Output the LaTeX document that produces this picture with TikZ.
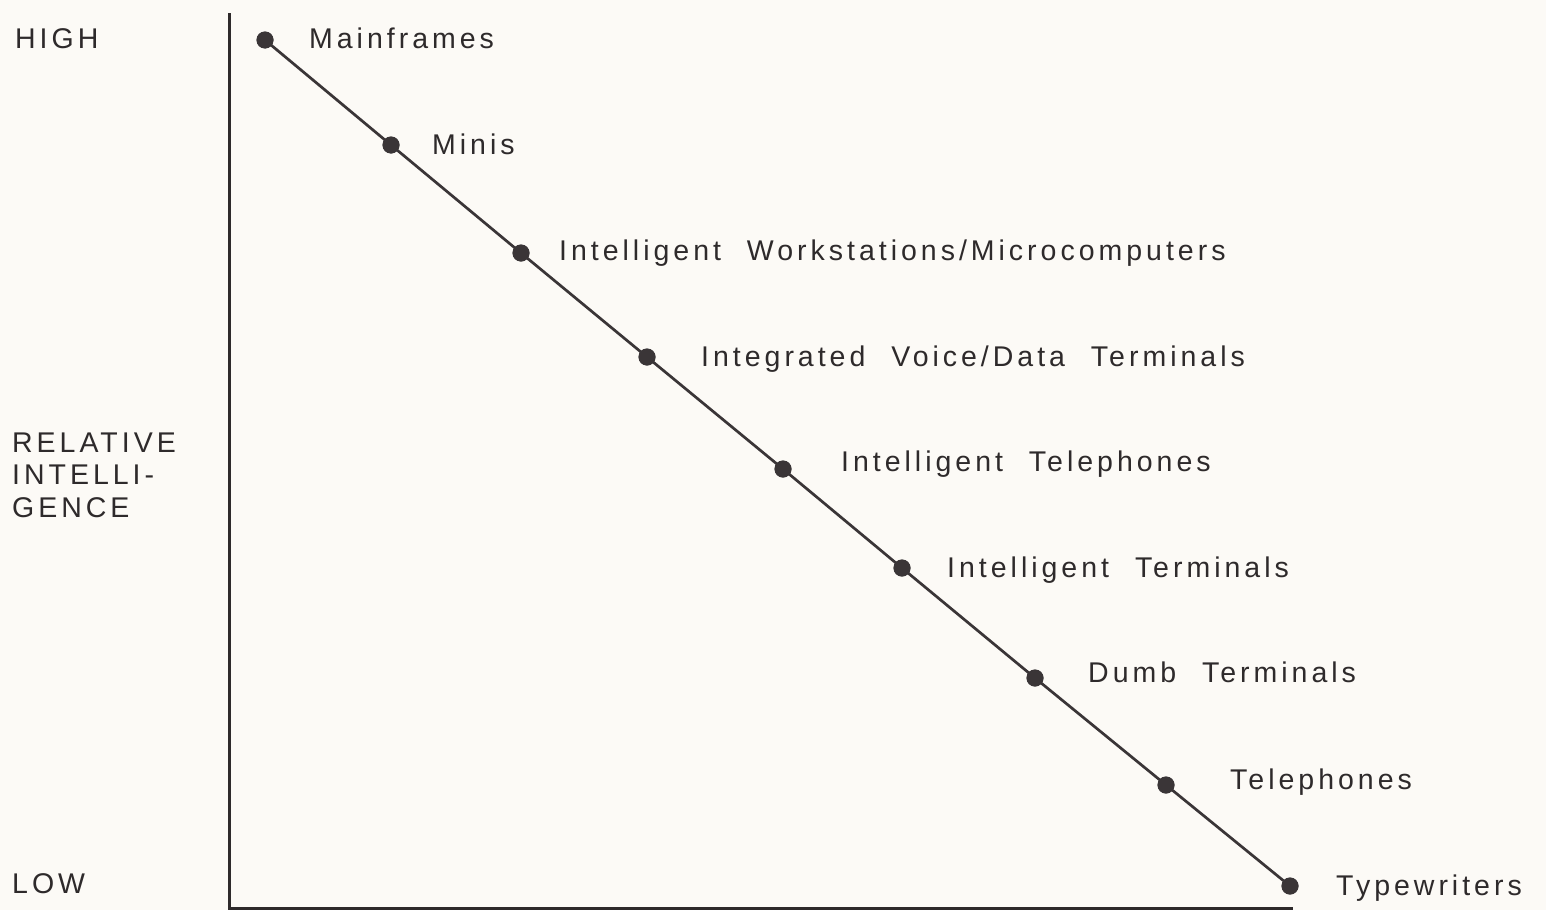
\documentclass[tikz,border=0pt]{standalone}
\usepackage{fontspec}
\setmainfont[LetterSpace=14]{Liberation Sans}
\definecolor{bg}{HTML}{FCFAF6}
\definecolor{ink}{HTML}{2E2A2B}
\definecolor{lineink}{HTML}{3A3537}
\newcommand{\lblfont}{\fontsize{28.5}{34}\selectfont\spaceskip=\dimexpr\fontdimen2\font+14pt\relax}
\begin{document}
\begin{tikzpicture}[x=1pt,y=-1pt,
  dot/.style={circle,fill=lineink,inner sep=0pt,minimum size=17pt},
  lbl/.style={anchor=base west,inner sep=0pt,text=ink,font=\lblfont},
  axis/.style={draw=ink,line width=3pt},
  trend/.style={draw=lineink,line width=2.7pt}]
\fill[bg] (0,0) rectangle (1546,910);
\useasboundingbox (0,0) rectangle (1546,910);
% axes
\coordinate (top) at (229,13);
\coordinate (origin) at (229,908);
\coordinate (xend) at (1293,908);
\draw[axis] (top) -- (origin) -- (xend);
% dots
\node[dot] (d1) at (265,40) {};
\node[dot] (d2) at (391,145) {};
\node[dot] (d3) at (521,253) {};
\node[dot] (d4) at (647,357) {};
\node[dot] (d5) at (783,469) {};
\node[dot] (d6) at (902,568) {};
\node[dot] (d7) at (1035,678) {};
\node[dot] (d8) at (1166,785) {};
\node[dot] (d9) at (1290,886) {};
\draw[trend] (d1.center) -- (d2.center) -- (d3.center) -- (d4.center) -- (d5.center) -- (d6.center) -- (d7.center) -- (d8.center) -- (d9.center);
\foreach \n in {d1,d2,d3,d4,d5,d6,d7,d8,d9} \node[dot] at (\n) {};
% labels
\node[lbl] (l1) at (309,48) {Mainframes};
\node[lbl] (l2) at (432,154) {Minis};
\node[lbl] (l3) at (559,260) {Intelligent Workstations/Microcomputers};
\node[lbl] (l4) at (701,366) {Integrated Voice/Data Terminals};
\node[lbl] (l5) at (841,471) {Intelligent Telephones};
\node[lbl] (l6) at (947,577) {Intelligent Terminals};
\node[lbl] (l7) at (1088,682) {Dumb Terminals};
\node[lbl] (l8) at (1230,789) {Telephones};
\node[lbl] (l9) at (1336,895) {Typewriters};
% axis labels
\node[lbl] (high) at (15,48) {HIGH};
\node[lbl] (rel1) at (12,452) {RELATIVE};
\node[lbl] (rel2) at (12,484) {INTELLI-};
\node[lbl] (rel3) at (12,517) {GENCE};
\node[lbl] (low) at (12,893) {LOW};
\end{tikzpicture}
\end{document}
